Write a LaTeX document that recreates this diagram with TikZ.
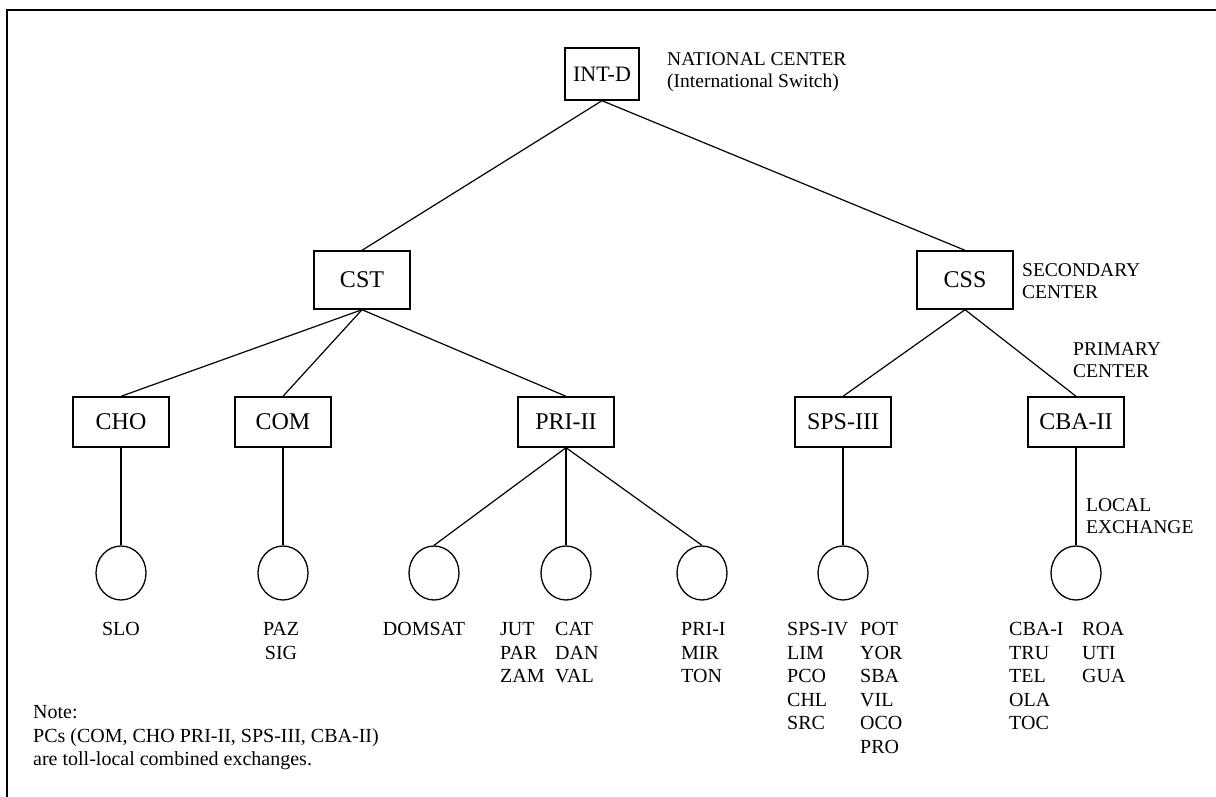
\documentclass[tikz,border=0pt]{standalone}
\usepackage{fontspec}
\setmainfont{Liberation Serif}
\usetikzlibrary{shapes.geometric}
\begin{document}
\begin{tikzpicture}[x=1pt,y=-1pt,
  swbox/.style={draw, line width=1.4pt, inner sep=0pt, minimum width=96pt,
                minimum height=50pt, font=\fontsize{24}{24}\selectfont},
  lex/.style={draw, ellipse, line width=1.3pt, minimum width=50pt,
              minimum height=54pt, inner sep=0pt},
  link/.style={line width=1.2pt},
  tag/.style={font=\fontsize{19.5}{22}\selectfont, align=left, anchor=west, inner sep=0pt},
  leaf/.style={font=\fontsize{20}{23.5}\selectfont, align=left, anchor=north west, inner sep=0pt},
]
\useasboundingbox (0,0) rectangle (1216,797);
% page frame: top and left rules
\draw[line width=2pt] (7,797) -- (7,10) -- (1216,10);

% switching hierarchy
\node[swbox, minimum width=74pt, minimum height=52pt, font=\fontsize{22}{22}\selectfont] (intd) at (602,74) {INT-D};
\node[swbox, minimum height=58pt] (cst) at (362,280) {CST};
\node[swbox, minimum height=58pt] (css) at (965,280) {CSS};

\node[swbox] (cho) at (121,422) {CHO};
\node[swbox] (com) at (283,422) {COM};
\node[swbox] (pri2) at (566,422) {PRI-II};
\node[swbox] (sps3) at (843,422) {SPS-III};
\node[swbox] (cba2) at (1076,422) {CBA-II};

% local exchanges
\node[lex] (lslo) at (121,573) {};
\node[lex] (lpaz) at (283,573) {};
\node[lex] (ldom) at (434,573) {};
\node[lex] (ljut) at (566,573) {};
\node[lex] (lpri) at (702,573) {};
\node[lex] (lsps) at (843,573) {};
\node[lex] (lcba) at (1076,573) {};

% links
\draw[link] (intd.south) -- (cst.north);
\draw[link] (intd.south) -- (css.north);
\draw[link] (cst.south) -- (cho.north);
\draw[link] (cst.south) -- (com.north);
\draw[link] (cst.south) -- (pri2.north);
\draw[link] (css.south) -- (sps3.north);
\draw[link] (css.south) -- (cba2.north);
\draw[link] (cho.south) -- (lslo.north);
\draw[link] (com.south) -- (lpaz.north);
\draw[link] (pri2.south) -- (ldom.north);
\draw[link] (pri2.south) -- (ljut.north);
\draw[link] (pri2.south) -- (lpri.north);
\draw[link] (sps3.south) -- (lsps.north);
\draw[link] (cba2.south) -- (lcba.north);

% level annotations
\node[tag] (tnat) at (667,72) {NATIONAL CENTER\\(International Switch)};
\node[tag] (tsec) at (1022,281) {SECONDARY\\CENTER};
\node[tag] (tpri) at (1073,360) {PRIMARY\\CENTER};
\node[tag] (tloc) at (1086,516) {LOCAL\\EXCHANGE};

% exchange names
\node[leaf, anchor=north] (nslo) at (121,622.4) {SLO};
\node[leaf, anchor=north, align=center] (npaz) at (281,622.4) {PAZ\\SIG};
\node[leaf, anchor=north] (ndom) at (424,622.4) {DOMSAT};
\node[leaf] (njut) at (500,622.4) {JUT\\PAR\\ZAM};
\node[leaf] (ncat) at (555,622.4) {CAT\\DAN\\VAL};
\node[leaf] (nprii) at (681,622.4) {PRI-I\\MIR\\TON};
\node[leaf] (nsps) at (787,622.4) {SPS-IV\\LIM\\PCO\\CHL\\SRC};
\node[leaf] (npot) at (860,622.4) {POT\\YOR\\SBA\\VIL\\OCO\\PRO};
\node[leaf] (ncba) at (1009,622.4) {CBA-I\\TRU\\TEL\\OLA\\TOC};
\node[leaf] (nroa) at (1082,622.4) {ROA\\UTI\\GUA};

% footnote
\node[leaf] (fnote) at (33,705.4) {Note:\\PCs (COM, CHO PRI-II, SPS-III, CBA-II)\\are toll-local combined exchanges.};
\end{tikzpicture}
\end{document}
